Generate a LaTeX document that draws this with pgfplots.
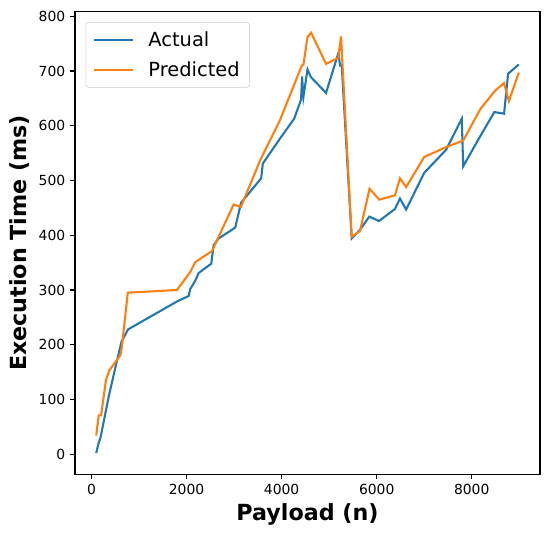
\documentclass[border=0pt]{standalone}
\usepackage{fontspec}
\setmainfont{DejaVu Sans}
\usepackage{pgfplots}
\pgfplotsset{compat=1.18}
\definecolor{tabblue}{HTML}{1F77B4}
\definecolor{taborange}{HTML}{FF7F0E}

\begin{document}
\begin{tikzpicture}
\begin{axis}[
  scale only axis, width=334.8pt, height=333pt,
  xmin=-346, xmax=9435, ymin=-36.4, ymax=808.4,
  xtick={0,2000,4000,6000,8000}, ytick={0,100,...,800},
  scaled x ticks=false,
  x tick label style={/pgf/number format/1000 sep={}},
  /pgf/number format/assume math mode=true,
  tick align=outside, tick pos=left, major tick length=3.5pt,
  every tick/.style={black, line width=0.8pt},
  axis line style={line width=0.8pt},
  tick label style={font=\fontsize{10}{12}\selectfont},
  xlabel={Payload (n)}, ylabel={Execution Time (ms)},
  label style={font=\fontsize{16}{19}\selectfont\bfseries},
  legend cell align=left,
  legend image code/.code={\draw[#1] (0pt,0pt) -- (28pt,0pt);},
  legend style={at={(0.023,0.9775)}, anchor=north west,
    draw=black!20, rounded corners=2pt, fill=white, fill opacity=0.8, text opacity=1,
    font=\fontsize{14}{17}\selectfont, inner xsep=5pt, inner ysep=4.5pt,
    row sep=5.6pt,
    /tikz/every odd column/.append style={column sep=8.5pt}},
]
\coordinate (sw) at (rel axis cs:0,0);
\coordinate (ne) at (rel axis cs:1,1);
\addplot[tabblue, line width=1.5pt] coordinates {
  (100,2) (150,20) (190,30) (370,108) (500,157) (630,205) (770,228)
  (1800,279) (2045,289) (2080,302) (2185,317) (2255,331) (2520,348)
  (2570,382) (2675,394) (3025,414) (3095,440) (3145,459) (3570,504)
  (3605,531) (3970,577) (4265,613) (4410,648) (4430,690) (4460,653)
  (4545,703) (4615,689) (4935,660) (5195,733) (5230,710) (5265,710)
  (5475,394) (5650,410) (5845,434) (6050,426) (6385,448) (6490,467)
  (6620,447) (7000,514) (7460,556) (7790,613) (7820,526) (8140,575)
  (8475,625) (8680,622) (8765,695) (8990,712)
};
\addlegendentry{Actual}
\addplot[taborange, line width=1.5pt] coordinates {
  (100,34) (153,71) (203,71) (305,135) (375,153) (610,181) (640,196)
  (765,295) (1800,300) (2080,333) (2185,351) (2535,371) (2990,456)
  (3145,452) (3550,537) (3970,611) (4425,710) (4460,712) (4545,762)
  (4620,770) (4935,713) (5195,724) (5250,763) (5475,397) (5650,408)
  (5850,485) (6055,465) (6385,473) (6490,504) (6620,488) (7000,543)
  (7460,561) (7820,573) (8185,631) (8490,664) (8680,678) (8780,645)
  (8990,697)
};
\addlegendentry{Predicted}
\end{axis}
\pgfresetboundingbox
\path ([shift={(-54pt,-44.6pt)}]sw) rectangle ([shift={(6.5pt,8.4pt)}]ne);
\end{tikzpicture}
\end{document}
